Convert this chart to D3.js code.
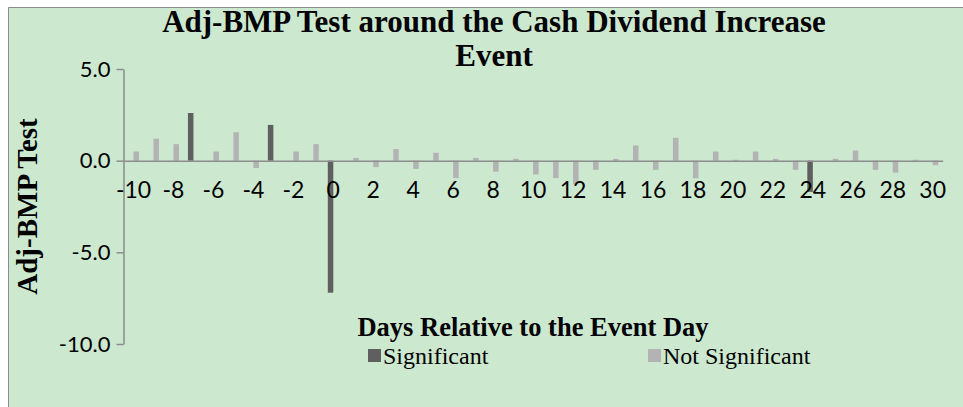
<!DOCTYPE html>
<html>
<head>
<meta charset="utf-8">
<script src="https://cdn.jsdelivr.net/npm/d3@7"></script>
<style>
  html, body { margin: 0; padding: 0; background: #fff; }
  svg { display: block; }
</style>
</head>
<body>
<svg id="chart" width="963" height="407"></svg>
<script>
// data
var days = [-10, -9, -8, -7, -6, -5, -4, -3, -2, -1, 0, 1, 2, 3, 4, 5, 6, 7, 8, 9, 10,
  11, 12, 13, 14, 15, 16, 17, 18, 19, 20, 21, 22, 23, 24, 25, 26, 27, 28, 29, 30];

var significant = [null, null, null, 2.6, null, null, null, 1.95, null, null, -7.2, null, null, null, null, null, null, null, null, null, null,
  null, null, null, null, null, null, null, null, null, null, null, null, null, -1.7, null, null, null, null, null, null];

var notSignificant = [0.5, 1.2, 0.9, null, 0.5, 1.55, -0.4, null, 0.5, 0.9, null, 0.15, -0.35, 0.63, -0.45, 0.43, -0.95, 0.15, -0.6, 0.1, -0.75,
  -0.95, -1.3, -0.5, 0.1, 0.83, -0.5, 1.25, -0.96, 0.5, 0.05, 0.5, 0.1, -0.5, null, 0.1, 0.55, -0.5, -0.65, 0.05, -0.25];

var seriesNames = ['Significant', 'Not Significant'];
var yTicks = [5, 0, -5, -10];
var xTickLabels = [-10, -8, -6, -4, -2, 0, 2, 4, 6, 8, 10, 12, 14, 16, 18, 20, 22, 24, 26, 28, 30];

var titleLines = ['Adj-BMP Test around the Cash Dividend Increase', 'Event'];
var yTitle = 'Adj-BMP Test';
var xTitle = 'Days Relative to the Event Day';

var colors = { 'Significant': '#5f5f5f', 'Not Significant': '#b3b3b3' };
var axisColor = '#8c8c8c';
var sans = 'Lato, "Open Sans", sans-serif';
var serif = '"Liberation Serif", "Times New Roman", serif';

var svg = d3.select('#chart');

// chart area
svg.append('rect')
  .attr('x', 8).attr('y', 7)
  .attr('width', 963 - 8).attr('height', 407 - 7)
  .attr('fill', '#cce8cf');
svg.append('path')
  .attr('d', 'M8.5,407V7.5H963')
  .attr('fill', 'none')
  .attr('stroke', axisColor)
  .attr('stroke-width', 1);

var plot = { left: 123.5, right: 942.7, top: 69, bottom: 344 };

var x0 = d3.scaleBand()
  .domain(days)
  .range([plot.left, plot.right])
  .paddingInner(0.45)
  .paddingOuter(0.225);

var x1 = d3.scaleBand()
  .domain(seriesNames)
  .range([0, x0.bandwidth()]);

var y = d3.scaleLinear()
  .domain([-10, 5])
  .range([plot.bottom, plot.top]);

// bars
var series = [
  { name: 'Significant', values: significant },
  { name: 'Not Significant', values: notSignificant }
];

series.forEach(function(s) {
  var pts = days.map(function(d, i) { return { day: d, value: s.values[i] }; })
    .filter(function(p) { return p.value != null; });
  svg.append('g')
    .selectAll('rect')
    .data(pts)
    .enter()
    .append('rect')
    .attr('x', function(p) { return x0(p.day) + x1(s.name); })
    .attr('width', x1.bandwidth())
    .attr('y', function(p) { return y(Math.max(0, p.value)); })
    .attr('height', function(p) { return Math.abs(y(p.value) - y(0)); })
    .attr('fill', colors[s.name]);
});

// y axis
var yAxis = svg.append('g')
  .attr('transform', 'translate(' + plot.left + ',0)')
  .call(d3.axisLeft(y)
    .tickValues(yTicks)
    .tickFormat(function(d) { return d.toFixed(1); })
    .tickSizeInner(7)
    .tickSizeOuter(0)
    .tickPadding(6));
yAxis.selectAll('path, line').attr('stroke', axisColor).attr('stroke-width', 1.5);
yAxis.selectAll('text')
  .attr('fill', '#000')
  .style('font-family', sans)
  .style('font-size', '22px');

// x axis along zero
var xAxis = svg.append('g')
  .attr('transform', 'translate(0,' + y(0) + ')')
  .call(d3.axisBottom(x0)
    .tickValues(xTickLabels)
    .tickSizeInner(0)
    .tickSizeOuter(0)
    .tickPadding(21));
xAxis.select('.domain').attr('stroke', axisColor).attr('stroke-width', 1.5);
xAxis.selectAll('line').remove();
xAxis.selectAll('text')
  .attr('fill', '#000')
  .style('font-family', sans)
  .style('font-size', '23px');

// titles
svg.append('g')
  .selectAll('text')
  .data(titleLines)
  .enter()
  .append('text')
  .attr('x', 494)
  .attr('y', function(d, i) { return 31.5 + i * 34.5; })
  .attr('text-anchor', 'middle')
  .style('font-family', serif)
  .style('font-weight', 'bold')
  .style('font-size', '31px')
  .text(function(d) { return d; });

svg.append('text')
  .attr('transform', 'translate(37,' + ((plot.top + plot.bottom) / 2) + ') rotate(-90)')
  .attr('text-anchor', 'middle')
  .style('font-family', serif)
  .style('font-weight', 'bold')
  .style('font-size', '29px')
  .text(yTitle);

svg.append('text')
  .attr('x', 533)
  .attr('y', 336)
  .attr('text-anchor', 'middle')
  .style('font-family', serif)
  .style('font-weight', 'bold')
  .style('font-size', '26.5px')
  .text(xTitle);

// legend
var legendX = [368, 648];
var legend = svg.append('g')
  .selectAll('g')
  .data(seriesNames)
  .enter()
  .append('g')
  .attr('transform', function(d, i) { return 'translate(' + legendX[i] + ',0)'; });
legend.append('rect')
  .attr('x', 0).attr('y', 349)
  .attr('width', 13).attr('height', 13)
  .attr('fill', function(d) { return colors[d]; });
legend.append('text')
  .attr('x', 15).attr('y', 364)
  .style('font-family', serif)
  .style('font-size', '24px')
  .text(function(d) { return d; });
</script>
</body>
</html>
